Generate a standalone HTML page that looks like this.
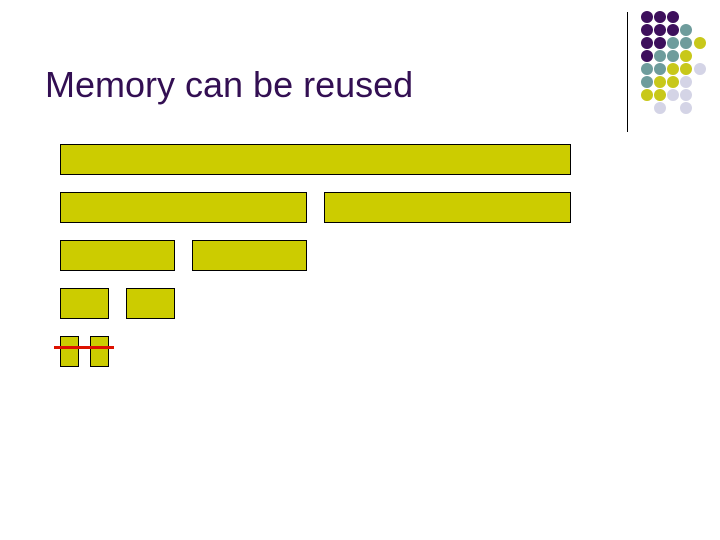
<!DOCTYPE html>
<html><head><style>
body{margin:0;width:720px;height:540px;background:#fff;position:relative;overflow:hidden;font-family:"Liberation Sans",sans-serif}
.b{position:absolute;background:#cccc00;border:1px solid #000;box-sizing:border-box}
h1{position:absolute;left:45px;top:64px;margin:0;font-size:36px;font-weight:normal;color:#330f53}
</style></head><body>
<h1>Memory can be reused</h1>
<div class="b" style="left:60px;top:144px;width:511px;height:31px"></div>
<div class="b" style="left:60px;top:192px;width:247px;height:31px"></div>
<div class="b" style="left:324px;top:192px;width:247px;height:31px"></div>
<div class="b" style="left:60px;top:240px;width:115px;height:31px"></div>
<div class="b" style="left:192px;top:240px;width:115px;height:31px"></div>
<div class="b" style="left:60px;top:288px;width:49px;height:31px"></div>
<div class="b" style="left:126px;top:288px;width:49px;height:31px"></div>
<div class="b" style="left:60px;top:336px;width:19px;height:31px"></div>
<div class="b" style="left:90px;top:336px;width:19px;height:31px"></div>
<div style="position:absolute;left:54px;top:346px;width:60px;height:3px;background:#dd1100"></div>
<svg width="720" height="540" style="position:absolute;left:0;top:0">
<line x1="627.5" y1="12" x2="627.5" y2="132" stroke="#000" stroke-width="1"/>
<g id="d"></g>
</svg>
<script>
var P="#3d0f5c",T="#6e9c9c",Y="#c8c81a",L="#d4d4e6";
var rows=[[P,P,P],[P,P,P,T],[P,P,T,T,Y],[P,T,T,Y],[T,T,Y,Y,L],[T,Y,Y,L],[Y,Y,L,L],[null,L,null,L]];
var xs=[647,660,673,686,700],ys=[17,30,43,56,69,82,95,108],s="";
rows.forEach(function(r,i){r.forEach(function(c,j){if(c)s+='<circle cx="'+xs[j]+'" cy="'+ys[i]+'" r="6" fill="'+c+'"/>';});});
document.getElementById("d").innerHTML=s;
</script>
</body></html>
